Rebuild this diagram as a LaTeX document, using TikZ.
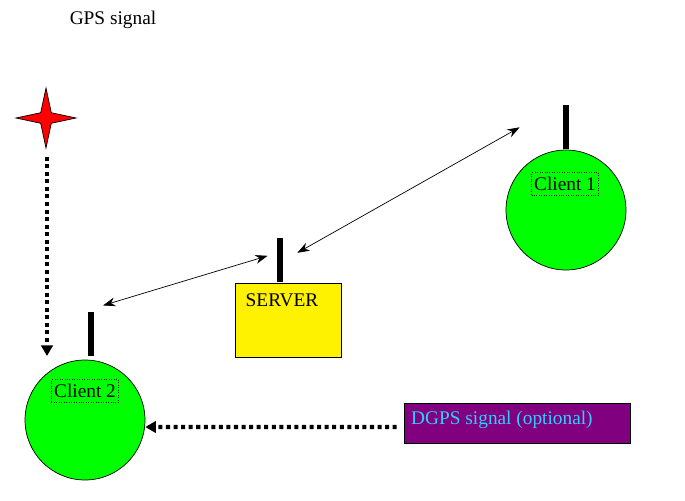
\documentclass[tikz,border=0pt]{standalone}
\usepackage{fontspec}
\setmainfont{Liberation Serif}
\usepackage{xcolor}
\usetikzlibrary{calc, shapes.geometric, positioning, arrows.meta}

\definecolor{clientgreen}{RGB}{0,255,0}
\definecolor{dgpspurple}{RGB}{128,0,128}
\definecolor{dgpscyan}{RGB}{51,204,255}

\begin{document}
\begin{tikzpicture}[x=0.02cm, y=-0.02cm, font=\fontsize{11}{13}\selectfont,
    client/.style={circle, draw, fill=clientgreen, minimum size=2.4cm, inner sep=0pt},
    antenna/.style={fill=black, minimum width=0.12cm, minimum height=0.88cm, inner sep=0pt},
    tag/.style={draw, densely dotted, fill=clientgreen, inner xsep=1.5pt, inner ysep=2.5pt},
    link/.style={{Stealth[length=7pt,width=5pt]}-{Stealth[length=7pt,width=5pt]}, thin},
    dots/.style={-{Triangle[length=6pt,width=6.5pt]}, line width=2.3pt, dash pattern=on 2.3pt off 2pt}]
    \useasboundingbox (0,0) rectangle (685,500);

    % 1. GPS satellite
    \node (gps) at (113,20) {GPS signal};
    \node[star, star points=4, star point ratio=4, draw, fill=red,
          minimum size=1.2cm, inner sep=0pt] (star) at (46,118) {};
    \coordinate (gpsend) at (47,356);

    % 2. Clients and server
    \node[client] (c1) at (566,210) {};
    \node[client] (c2) at (85,420) {};
    \node[draw, fill=yellow, minimum width=2.12cm, minimum height=1.48cm,
          inner sep=0pt] (server) at (288,320) {};
    \node (srvtext) at (282,300) {SERVER};
    \node[tag] (t1) at (565,184) {Client 1};
    \node[tag] (t2) at (85,391) {Client 2};

    % 3. Antennas
    \node[antenna, above=0pt of c1] (ant1) {};
    \node[antenna, above=2pt of c2, xshift=0.12cm] (ant2) {};
    \node[antenna, above=0pt of server, xshift=-0.16cm] (antS) {};

    % 4. DGPS box
    \node[draw, fill=dgpspurple, minimum width=4.52cm, minimum height=0.8cm,
          inner sep=0pt] (dgps) at (517,423) {};
    \node[text=dgpscyan, anchor=west] (dgpstext) at (405,420) {DGPS signal (optional)};

    % 5. Links
    \coordinate (l2) at ($(ant2.north)+(12,-6)$);
    \coordinate (lS) at ($(antS.west)+(-9,-4.5)$);
    \coordinate (rS) at ($(antS.east)+(14,-7.5)$);
    \coordinate (r1) at ($(ant1.west)+(-43,0)$);
    \draw[link] (l2) -- (lS);
    \draw[link] (rS) -- (r1);

    % 6. Signals
    \draw[dots] ($(star.south)+(1,7)$) -- (gpsend);
    \draw[dots] ([yshift=-0.08cm, xshift=-0.14cm]dgps.west) -- ([yshift=-0.14cm]c2.east);
\end{tikzpicture}
\end{document}
